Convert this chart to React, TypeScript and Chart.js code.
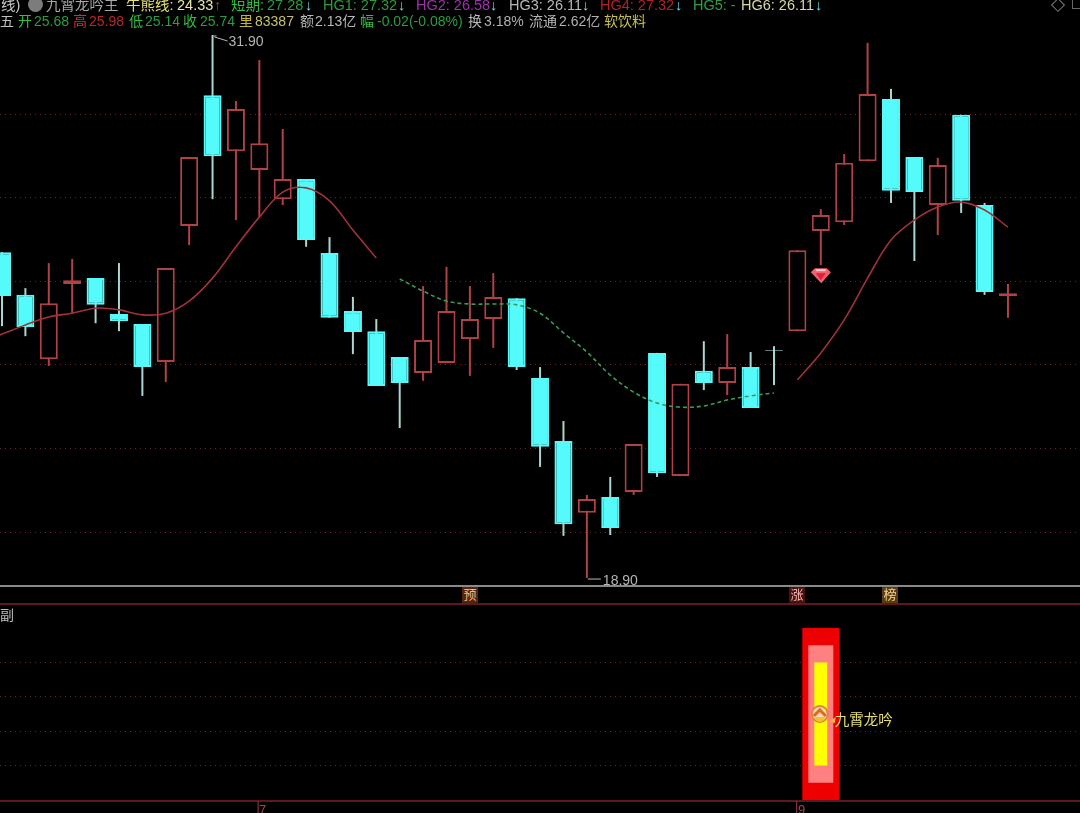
import React, { useEffect, useRef } from "react";
import { Chart, registerables } from "chart.js";

Chart.register(...registerables);

// ---------- data ----------
const opens = [26.7,25.68,24.14,25.94,26.08,25.22,24.98,24.07,27.33,30.46,29.12,28.67,27.97,28.45,26.68,25.29,24.81,24.19,23.81,24.05,24.62,25.1,25.6,23.69,22.18,20.46,20.84,20.96,24.29,21.34,23.86,23.57,23.95,24.34,24.81,27.21,27.42,28.88,30.37,28.98,27.83,29.99,27.83,25.65];
const closes = [25.65,24.91,25.48,26.03,25.44,25.05,23.95,26.32,28.98,29.0,30.13,29.31,28.45,26.99,25.13,24.79,23.5,23.57,24.6,25.29,25.1,25.63,23.95,22.04,20.19,20.79,20.1,22.11,21.41,23.55,23.57,23.95,22.97,24.36,26.75,27.59,28.84,30.49,28.17,28.14,28.79,27.93,25.75,25.72];
const highs = [26.7,25.84,26.44,26.54,26.08,26.44,24.98,26.32,28.98,31.9,30.32,31.3,29.65,28.45,27.06,25.63,25.1,24.19,25.89,26.35,25.89,26.2,25.6,23.95,22.66,20.89,21.32,22.11,24.29,23.55,24.57,24.74,24.31,24.45,26.75,27.73,29.05,31.71,30.61,28.98,28.96,29.99,27.88,25.94];
const lows = [24.93,24.69,23.98,25.24,25.0,24.81,23.26,23.59,26.87,27.97,27.47,27.54,27.83,26.83,25.13,24.26,23.5,22.49,23.62,24.05,23.74,24.41,23.88,21.56,19.91,18.9,19.93,20.89,21.32,21.34,23.4,23.28,22.97,23.52,24.81,26.39,27.35,28.88,27.88,26.49,27.11,27.64,25.68,25.13];

const maFirstStart = -1;
const maFirst = [24.52,24.74,24.96,25.15,25.24,25.36,25.32,25.2,25.24,25.53,26.08,26.83,27.54,28.14,28.24,27.93,27.23,26.56];
const maDashedStart = 17;
const maDashed = [26.06,25.77,25.53,25.46,25.46,25.44,25.24,24.77,24.31,23.76,23.35,23.09,22.99,23.02,23.16,23.26,23.33];
const maLastStart = 34;
const maLast = [23.64,24.29,25.08,26.08,26.99,27.47,27.78,27.9,27.71,27.3];

const priceGrid = [20, 22, 24, 26, 28, 30];
const subGrid = [20, 40, 60, 80];
const signalIndex = 35;
const signalRed = [0, 100];
const signalPink = [10, 90];
const signalYellow = [20, 80];
const gemPrice = 26.15;
const hatValue = 50;
const extremes = [
  { index: 9, price: 31.9, label: "31.90" },
  { index: 25, price: 18.9, label: "18.90" },
];
const signalName = "九霄龙吟";

const row1Labels = ["线)", "九霄龙吟主", "牛熊线:", "24.33", "↑", "短期:", "27.28", "↓", "HG1: 27.32", "↓", "HG2: 26.58", "↓", "HG3: 26.11", "↓", "HG4: 27.32", "↓", "HG5: -", "HG6: 26.11", "↓"];
const row2Labels = ["五", "开", "25.68", "高", "25.98", "低", "25.14", "收", "25.74", "里", "83387", "额", "2.13亿", "幅", "-0.02(-0.08%)", "换", "3.18%", "流通", "2.62亿", "软饮料"];
const tagLabels = ["预", "涨", "榜"];
const panelLabel = "副";
const dateLabels = ["7", "9"];

// ---------- layout and style ----------
const W = 1080;
const H = 813;
const row1Layout: [number, string][] = [
  [1, "#c8c8c8"], [46, "#a8a8a8"], [126, "#e6e070"], [177, "#e8e8a8"], [214, "#e03030"],
  [231, "#30c040"], [267, "#2c9c3c"], [305, "#70e0e8"], [323, "#2c9c3c"], [398, "#70e0e8"],
  [416, "#a030b0"], [490, "#70e0e8"], [509, "#b8b8b8"], [582, "#70e0e8"], [600, "#b82020"],
  [675, "#70e0e8"], [693, "#2ca040"], [741, "#d8d8a0"], [815, "#70e0e8"],
];
const row2Layout: [number, string][] = [
  [0, "#c0c0c0"], [18, "#30c040"], [34, "#2c9c3c"], [73, "#e02828"], [89, "#b82828"],
  [129, "#30c040"], [145, "#2c9c3c"], [183, "#30c040"], [200, "#2c9c3c"], [239, "#c8b820"],
  [255, "#c8c070"], [300, "#b8b8b8"], [315, "#b8b8b8"], [360, "#30c040"], [377, "#2c9c3c"],
  [468, "#b8b8b8"], [484, "#b0b0b0"], [529, "#b8b8b8"], [559, "#b0b0b0"], [604, "#c8c050"],
];
const tagLayout = [
  { x: 462, bg: "#54240c", fg: "#eab888" },
  { x: 789, bg: "#4c1010", fg: "#f0b8b0" },
  { x: 882, bg: "#5c3c0c", fg: "#f0d8a0" },
];
const RED = "#b04246";
const CYAN = "#55fbfb";
const CYAN_WICK = "#a9d6d2";
const GRID = "#6a2428";
const TEXT_FONT = '"Liberation Sans", "Noto Sans CJK SC", sans-serif';

const isDown = (i: number) => closes[i] < opens[i];
const isDoji = (i: number) => i === 33;
const idx = opens.map((_, i) => i);

const chromePlugin = {
  id: "chrome",
  beforeDatasetsDraw(chart: any) {
    const c = chart.ctx;
    const rule = (y: number, color: string, w: number) => {
      c.fillStyle = color;
      c.fillRect(0, y - w / 2, W, w);
    };
    c.save();
    rule(586, "#c4c4c4", 1.4);
    rule(604, "#7c2228", 1.5);
    rule(801, "#7c2228", 1.5);
    c.fillStyle = "#8a3038";
    c.fillRect(257.5, 801, 1.2, 12);
    c.fillRect(796, 801, 1.2, 12);
    c.restore();
  },
  afterDatasetsDraw(chart: any) {
    const c = chart.ctx;
    const { x, y, ySub } = chart.scales;
    c.save();
    // extreme price callouts
    extremes.forEach((e) => {
      const px = x.getPixelForValue(e.index);
      const py = y.getPixelForValue(e.price);
      c.strokeStyle = "#b8b8b8";
      c.lineWidth = 1;
      c.beginPath();
      if (e.price > 30) {
        c.moveTo(px + 1, py + 1);
        c.lineTo(px + 4, py + 1);
        c.moveTo(px + 2, py + 2);
        c.lineTo(px + 15, py + 6);
      } else {
        c.moveTo(px + 1, py + 1);
        c.lineTo(px + 14, py + 1);
      }
      c.stroke();
      c.fillStyle = "#b4b4b4";
      c.font = `14px ${TEXT_FONT}`;
      c.textBaseline = "middle";
      c.fillText(e.label, px + 16, e.price > 30 ? py + 7 : py + 3);
    });
    // gem
    const gx = x.getPixelForValue(signalIndex);
    const gy = y.getPixelForValue(gemPrice);
    c.fillStyle = "#f4606c";
    c.beginPath();
    c.moveTo(gx - 6, gy - 7);
    c.lineTo(gx + 6, gy - 7);
    c.lineTo(gx + 10, gy - 3);
    c.lineTo(gx + 0.5, gy + 8);
    c.lineTo(gx - 10, gy - 3);
    c.closePath();
    c.fill();
    c.fillStyle = "#f8c8cc";
    c.fillRect(gx - 5, gy - 6, 10, 2);
    c.fillStyle = "#e0203c";
    c.beginPath();
    c.moveTo(gx - 5, gy - 2);
    c.lineTo(gx + 5, gy - 2);
    c.lineTo(gx, gy + 5);
    c.closePath();
    c.fill();
    // hat badge
    const hy = ySub.getPixelForValue(hatValue);
    const hx = gx - 1;
    c.fillStyle = "#f8d8b8";
    c.beginPath();
    c.arc(hx, hy, 8, 0, Math.PI * 2);
    c.fill();
    c.strokeStyle = "#d88a38";
    c.lineWidth = 2;
    c.stroke();
    c.strokeStyle = "#e06a18";
    c.lineWidth = 3;
    c.beginPath();
    c.moveTo(hx - 6, hy + 2);
    c.lineTo(hx, hy - 4);
    c.lineTo(hx + 6, hy + 2);
    c.stroke();
    c.fillStyle = "#f4c030";
    c.beginPath();
    c.arc(hx, hy + 3, 5, 0, Math.PI);
    c.fill();
    // pointer + name
    c.fillStyle = "#f4b040";
    c.beginPath();
    c.moveTo(gx + 8, hy + 8);
    c.lineTo(gx + 15, hy + 3);
    c.lineTo(gx + 14, hy + 9);
    c.closePath();
    c.fill();
    c.fillStyle = "#e4e070";
    c.font = `14.5px ${TEXT_FONT}`;
    c.textBaseline = "middle";
    c.fillText(signalName, gx + 14, hy + 7);
    c.restore();
  },
};

export default function App() {
  const ref = useRef<HTMLCanvasElement>(null);

  useEffect(() => {
    document.documentElement.style.background = "#000";
    document.body.style.margin = "0";
    document.body.style.background = "#000";

    const wick = (i: number) => ({ x: i, y: [lows[i], highs[i]] });
    const body = (i: number) => ({ x: i, y: [Math.min(opens[i], closes[i]), Math.max(opens[i], closes[i])] });
    const series = (start: number, values: number[]) => values.map((v, k) => ({ x: start + k, y: v }));
    const bar = { grouped: false, inflateAmount: 0 };

    const chart = new Chart(ref.current as HTMLCanvasElement, {
      type: "bar",
      plugins: [chromePlugin],
      data: {
        datasets: [
          {
            ...bar,
            label: "wick",
            data: idx.map(wick),
            barThickness: 2,
            backgroundColor: idx.map((i) => (isDown(i) || isDoji(i) ? CYAN_WICK : RED)),
            order: 5,
          },
          {
            ...bar,
            label: "body",
            data: idx.map(body),
            barThickness: 18,
            backgroundColor: idx.map((i) => (isDoji(i) ? CYAN_WICK : isDown(i) ? CYAN : "#000")),
            borderColor: idx.map((i) => (isDoji(i) ? CYAN_WICK : isDown(i) ? CYAN : RED)),
            borderWidth: 2,
            borderSkipped: false,
            order: 4,
          },
          { ...bar, label: "sig1", yAxisID: "ySub", data: [{ x: signalIndex, y: signalRed }], barThickness: 37, backgroundColor: "#ee0000", order: 3 },
          { ...bar, label: "sig2", yAxisID: "ySub", data: [{ x: signalIndex, y: signalPink }], barThickness: 25, backgroundColor: "#ff8080", order: 2 },
          { ...bar, label: "sig3", yAxisID: "ySub", data: [{ x: signalIndex, y: signalYellow }], barThickness: 13, backgroundColor: "#ffff00", order: 1 },
          { type: "line", label: "ma1", data: series(maFirstStart, maFirst), borderColor: "#a03238", borderWidth: 1.6, pointRadius: 0, tension: 0.35, order: 0 },
          { type: "line", label: "ma2", data: series(maDashedStart, maDashed), borderColor: "#3c9a54", borderWidth: 1.6, borderDash: [4, 3], pointRadius: 0, tension: 0.35, order: 0 },
          { type: "line", label: "ma3", data: series(maLastStart, maLast), borderColor: "#a03238", borderWidth: 1.6, pointRadius: 0, tension: 0.35, order: 0 },
        ] as any,
      },
      options: {
        responsive: false,
        animation: false,
        devicePixelRatio: 1,
        layout: { padding: 0, autoPadding: false },
        plugins: { legend: { display: false }, tooltip: { enabled: false } },
        scales: {
          x: { type: "linear", display: false, offset: false, min: -0.0855, max: 46.08 },
          y: {
            type: "linear",
            position: "left",
            min: 13.275,
            max: 32.738,
            afterBuildTicks: (a: any) => { a.ticks = priceGrid.map((value) => ({ value })); },
            ticks: { display: false },
            grid: { color: GRID, lineWidth: 1, drawTicks: false },
            border: { display: false, dash: [1, 4] },
          },
          ySub: {
            type: "linear",
            position: "right",
            min: -7.56,
            max: 465.1,
            afterBuildTicks: (a: any) => { a.ticks = subGrid.map((value) => ({ value })); },
            ticks: { display: false },
            grid: { color: GRID, lineWidth: 1, drawTicks: false },
            border: { display: false, dash: [1, 4] },
          },
        },
      } as any,
    });
    return () => chart.destroy();
  }, []);

  const abs = (left: number, top: number, color: string, size = 14): React.CSSProperties => ({
    position: "absolute",
    left,
    top,
    color,
    font: `${size}px/16px ${TEXT_FONT}`,
    whiteSpace: "pre",
  });

  return (
    <div style={{ position: "relative", width: W, height: H, overflow: "hidden", background: "#000", filter: "blur(0.35px)" }}>
      <canvas ref={ref} width={W} height={H} style={{ display: "block" }} />
      <div style={{ position: "absolute", left: 28, top: -3, width: 15, height: 15, borderRadius: 8, background: "#7c7c7c" }} />
      {row1Labels.map((t, i) => (
        <span key={"a" + i} style={abs(row1Layout[i][0], -3, row1Layout[i][1], 14.5)}>{t}</span>
      ))}
      {row2Labels.map((t, i) => (
        <span key={"b" + i} style={abs(row2Layout[i][0], 13, row2Layout[i][1])}>{t}</span>
      ))}
      <div style={{ position: "absolute", left: 1053, top: 0, width: 8, height: 8, border: "1px solid #777", transform: "rotate(45deg)" }} />
      <div style={{ position: "absolute", left: 1072, top: -2, width: 12, height: 9, border: "1px solid #666" }} />
      {tagLabels.map((t, i) => (
        <span
          key={"t" + i}
          style={{ ...abs(tagLayout[i].x, 587, tagLayout[i].fg, 13), width: 16, height: 16, textAlign: "center", background: tagLayout[i].bg }}
        >
          {t}
        </span>
      ))}
      <span style={abs(0, 607, "#bdbdbd")}>{panelLabel}</span>
      <span style={abs(259, 802, "#a04850", 13)}>{dateLabels[0]}</span>
      <span style={abs(798, 802, "#a04850", 13)}>{dateLabels[1]}</span>
    </div>
  );
}
